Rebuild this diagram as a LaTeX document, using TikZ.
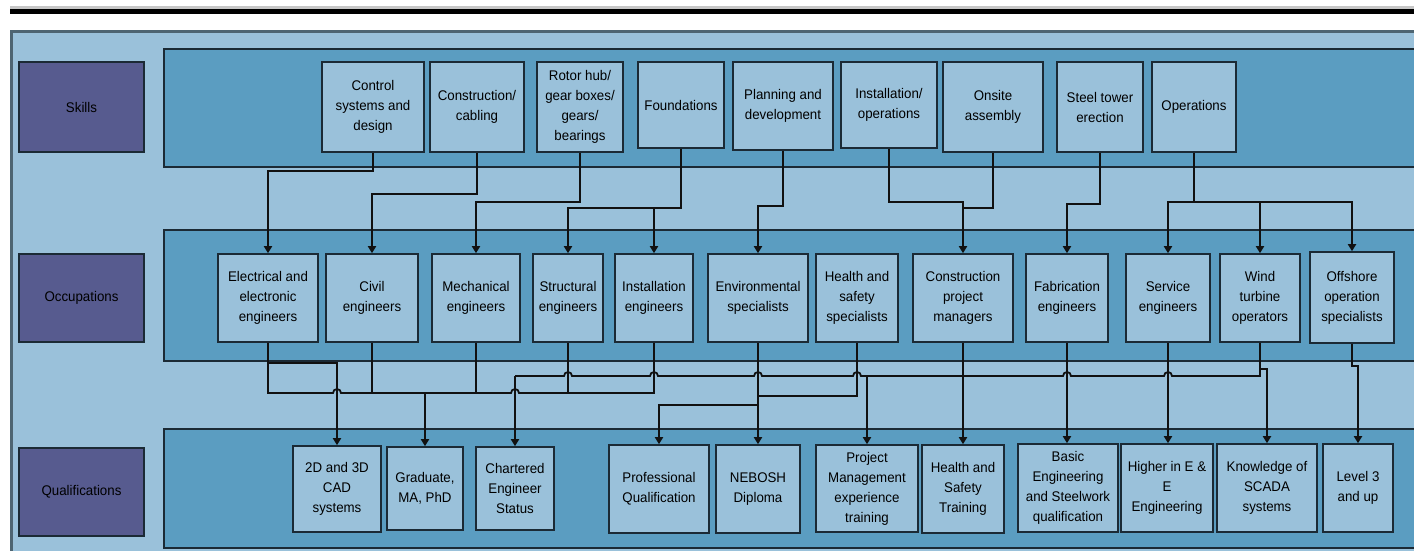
\documentclass[tikz,border=0pt]{standalone}
\usepackage{fontspec}
\setmainfont[FakeStretch=0.95]{Liberation Sans}
\usetikzlibrary{arrows.meta,calc}
\definecolor{panel}{HTML}{9AC1DA}
\definecolor{bandc}{HTML}{5B9DC1}
\definecolor{boxc}{HTML}{9AC1DA}
\definecolor{labc}{HTML}{575B8F}
\definecolor{edgec}{HTML}{1B2A35}
\definecolor{framec}{HTML}{4E6572}
\definecolor{linec}{HTML}{111111}
\tikzset{
  boxst/.style={draw=edgec, line width=1.6pt, fill=boxc, align=center, inner sep=0pt,
    text=black, font=\fontsize{14}{20}\selectfont},
  labst/.style={boxst, fill=labc},
  bandst/.style={draw=edgec, line width=1.6pt, fill=bandc},
  conn/.style={draw=linec, line width=1.8pt},
  arr/.style={conn, -{Triangle[length=7pt,width=8pt]}},
}
\newcommand\mybox[7][boxst]{%
  \node[#1, minimum width={#5-#3}, minimum height={#6-#4}] (#2) at ({(#3+#5)/2},{(#4+#6)/2}) {#7};}
\newcommand\hop{arc[start angle=180,end angle=360,radius=4]}
\begin{document}
\begin{tikzpicture}[x=1pt,y=-1pt]
\useasboundingbox (0,0) rectangle (1414,551);
\fill[white] (0,0) rectangle (1414,551);
% top rules
\fill[black!22] (10,6) rectangle (1420,9.5);
\fill[black] (10,9.5) rectangle (1420,14);
% outer panel
\draw[fill=panel, draw=framec, line width=3pt] (11.5,31.5) rectangle (1440,600);
% bands
\draw[bandst] (164,49) rectangle (1440,167);
\draw[bandst] (164,230) rectangle (1440,361);
\draw[bandst] (164,429) rectangle (1440,548);
% row labels
\mybox[labst]{lskills}{19}{62}{144}{152}{Skills}
\mybox[labst]{locc}{19}{254}{144}{342}{Occupations}
\mybox[labst]{lqual}{19}{448}{144}{536}{Qualifications}
% skills
\mybox{s1}{322}{62}{424}{152}{Control\\systems and\\design}
\mybox{s2}{430}{62}{524}{152}{Construction/\\cabling}
\mybox{s3}{537}{62}{623}{152}{Rotor hub/\\gear boxes/\\gears/\\bearings}
\mybox{s4}{638}{62}{724}{148}{Foundations}
\mybox{s5}{733}{62}{833}{150}{Planning and\\development}
\mybox{s6}{841}{62}{937}{148}{Installation/\\operations}
\mybox{s7}{943}{62}{1043}{152}{Onsite\\assembly}
\mybox{s8}{1057}{62}{1143}{152}{Steel tower\\erection}
\mybox{s9}{1152}{62}{1236}{152}{Operations}
% occupations
\mybox{o1}{218}{254}{318}{342}{Electrical and\\electronic\\engineers}
\mybox{o2}{326}{254}{418}{342}{Civil\\engineers}
\mybox{o3}{432}{254}{520}{342}{Mechanical\\engineers}
\mybox{o4}{533}{254}{603}{342}{Structural\\engineers}
\mybox{o5}{615}{254}{693}{342}{Installation\\engineers}
\mybox{o6}{708}{254}{808}{342}{Environmental\\specialists}
\mybox{o7}{816}{254}{898}{342}{Health and\\safety\\specialists}
\mybox{o8}{913}{254}{1013}{342}{Construction\\project\\managers}
\mybox{o9}{1026}{254}{1108}{342}{Fabrication\\engineers}
\mybox{o10}{1126}{254}{1210}{342}{Service\\engineers}
\mybox{o11}{1220}{254}{1300}{342}{Wind\\turbine\\operators}
\mybox{o12}{1310}{252}{1394}{343}{Offshore\\operation\\specialists}
% qualifications
\mybox{q1}{293}{446}{381}{532}{2D and 3D\\CAD\\systems}
\mybox{q2}{387}{447}{463}{530}{Graduate,\\MA, PhD}
\mybox{q3}{476}{447}{554}{530}{Chartered\\Engineer\\Status}
\mybox{q4}{609}{445}{709}{533}{Professional\\Qualification}
\mybox{q5}{716}{445}{800}{533}{NEBOSH\\Diploma}
\mybox{q6}{816}{445}{918}{532}{Project\\Management\\experience\\training}
\mybox{q7}{922}{445}{1004}{533}{Health and\\Safety\\Training}
\mybox{q8}{1018}{444}{1118}{532}{Basic\\Engineering\\and Steelwork\\qualification}
\mybox{q9}{1121}{444}{1213}{532}{Higher in E \&\\E\\Engineering}
\mybox{q10}{1217}{444}{1317}{532}{Knowledge of\\SCADA\\systems}
\mybox{q11}{1323}{444}{1393}{532}{Level 3\\and up}
% skills -> occupations
\draw[arr] (s1.south) -- (s1.south |- 0,171) -| (o1.north);
\draw[arr] (s2.south) -- (s2.south |- 0,194) -| (o2.north);
\draw[arr] (s3.south) -- (s3.south |- 0,202) -| (o3.north);
\draw[arr] (s4.south) -- (s4.south |- 0,208) -| (o4.north);
\draw[arr] (o5.north |- 0,208) -- (o5.north);
\draw[arr] (s5.south) -- (s5.south |- 0,206) -| (o6.north);
\draw[arr] (s6.south) -- (s6.south |- 0,202) -| (o8.north);
\draw[conn] (s7.south) |- (o8.north |- 0,208);
\draw[arr] (s8.south) -- (s8.south |- 0,204) -| (o9.north);
\draw[conn] (s9.south) -- (s9.south |- 0,202);
\draw[arr] (s9.south |- 0,202) -| (o10.north);
\draw[arr] (s9.south |- 0,202) -| (o12.north);
\draw[arr] (o11.north |- 0,202) -- (o11.north);
% occupations -> qualifications
\draw[conn] (o1.south) -- (o1.south |- 0,393)
  -- ($(q1.north |- 0,393)+(-4,0)$) \hop
  -- ($(q3.north |- 0,393)+(-4,0)$) \hop
  -- (o5.south |- 0,393) -- (o5.south);
\draw[arr] (o1.south |- 0,363) -| (q1.north);
\draw[conn] (o2.south) -- (o2.south |- 0,393);
\draw[conn] (o3.south) -- (o3.south |- 0,393);
\draw[conn] (o4.south) -- (o4.south |- 0,393);
\draw[arr] (q2.north |- 0,393) -- (q2.north);
\draw[conn] (q3.north |- 0,376)
  -- ($(o4.south |- 0,376)+(-4,0)$) \hop
  -- ($(o5.south |- 0,376)+(-4,0)$) \hop
  -- ($(o6.south |- 0,376)+(-4,0)$) \hop
  -- ($(o7.south |- 0,376)+(-4,0)$) \hop
  -- ($(o9.south |- 0,376)+(-4,0)$) \hop
  -- ($(o10.south |- 0,376)+(-4,0)$) \hop
  -- (o11.south |- 0,376) -- (o11.south);
\draw[arr] (q3.north |- 0,376) -- (q3.north);
\draw[arr] (q6.north |- 0,376) -- (q6.north);
\draw[arr] (o6.south) -- (o6.south |- q5.north);
\draw[arr] (o6.south |- 0,405) -| (q4.north);
\draw[conn] (o7.south) |- (o6.south |- 0,396);
\draw[arr] (o8.south) -- (o8.south |- q7.north);
\draw[arr] (o9.south) -- (o9.south |- q8.north);
\draw[arr] (o10.south) -- (o10.south |- q9.north);
\draw[arr] (o11.south |- 0,369) -| (q10.north);
\draw[arr] (o12.south) -- (o12.south |- 0,366) -| (q11.north);
\end{tikzpicture}
\end{document}
